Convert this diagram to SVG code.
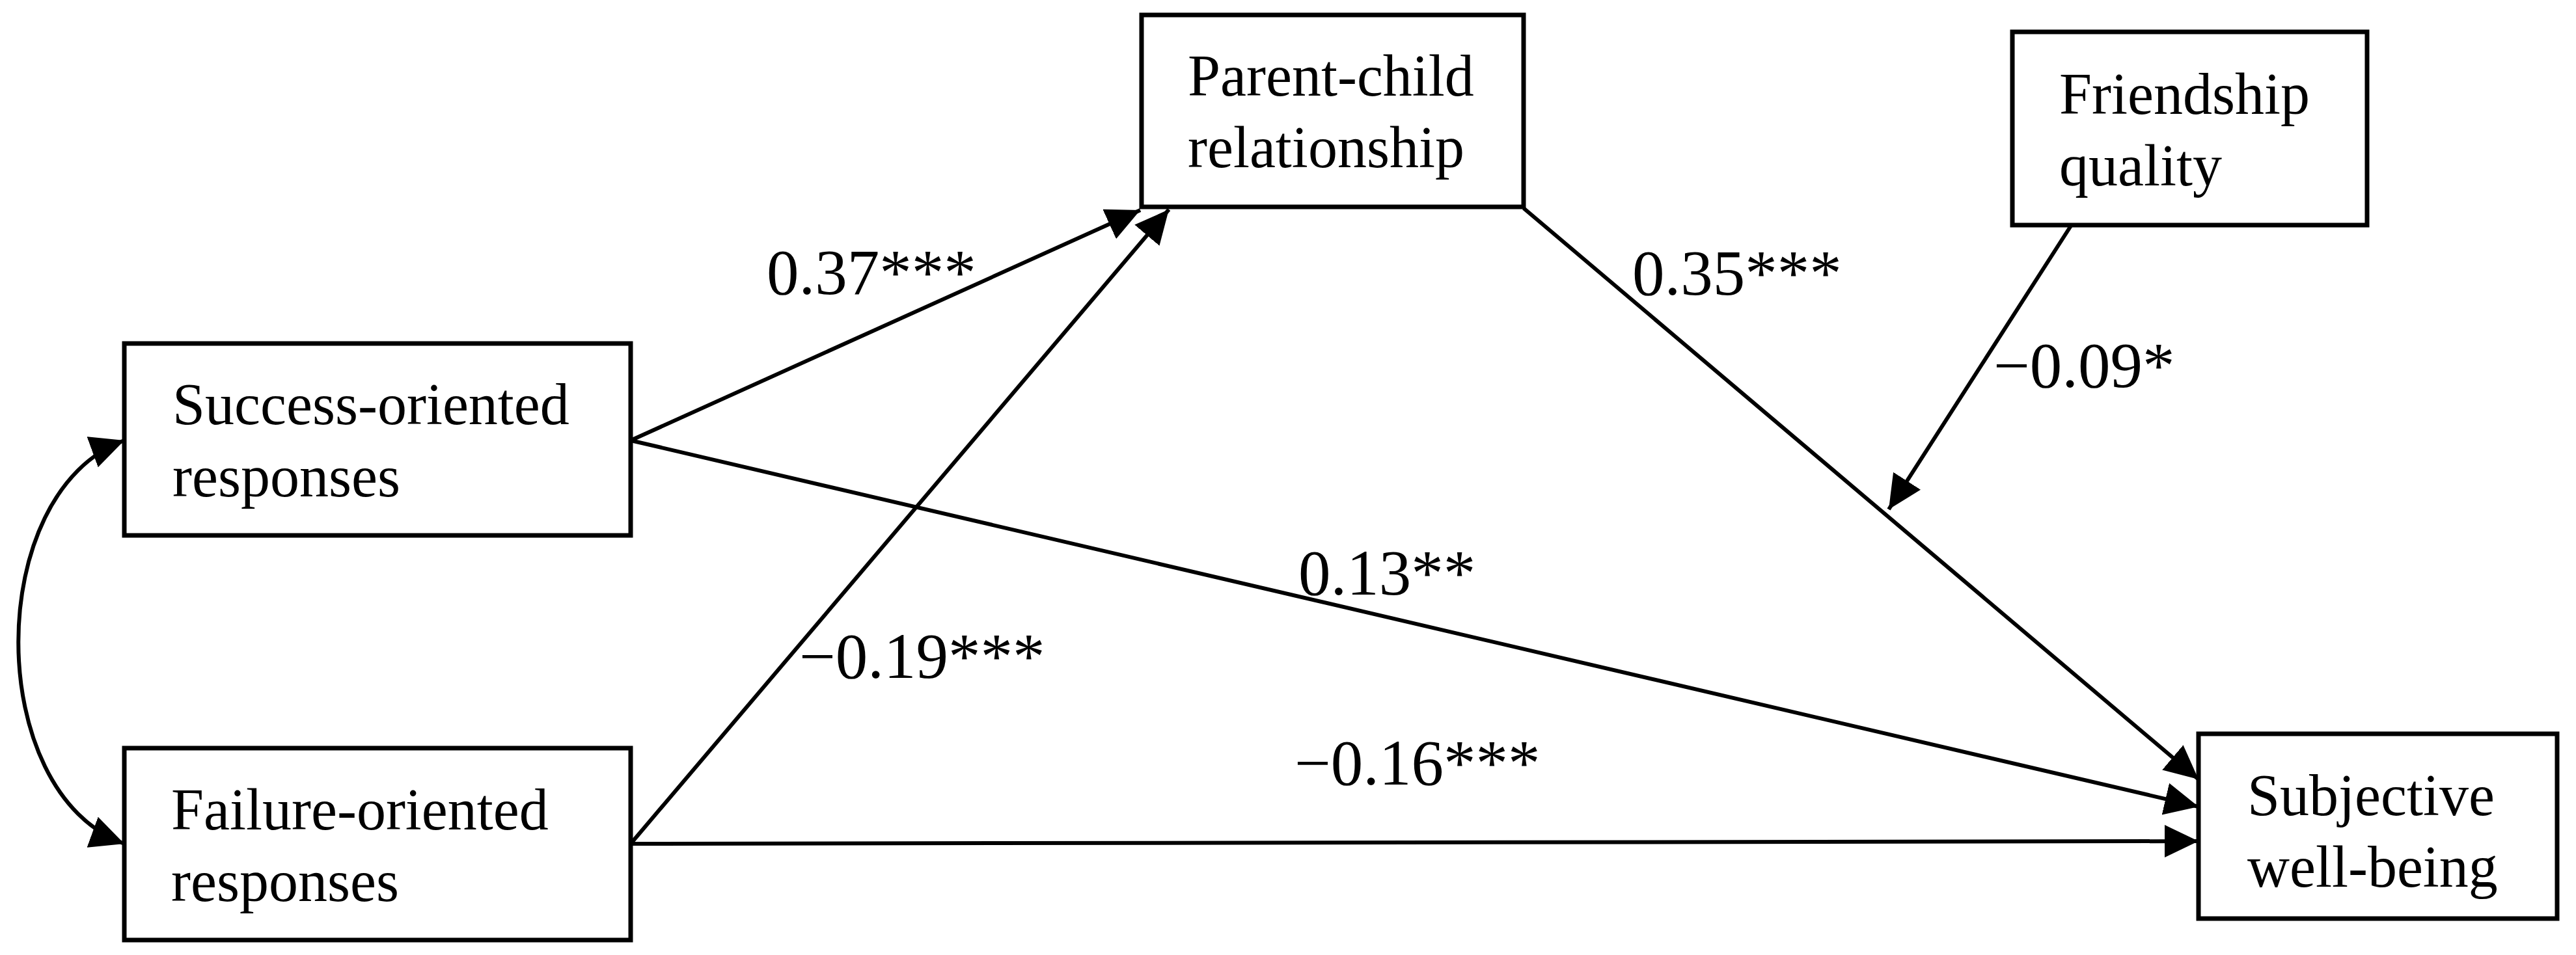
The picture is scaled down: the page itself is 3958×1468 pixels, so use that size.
<svg xmlns="http://www.w3.org/2000/svg" width="3958" height="1468" viewBox="0 0 3958 1468">
<style>
.box{fill:#fff;stroke:#000;stroke-width:7}
.nt{font-family:"Liberation Serif","Times New Roman",serif;font-size:90px;fill:#000}
.lb{font-family:"Liberation Serif","Times New Roman",serif;font-size:99px;fill:#000}
.ln{fill:none;stroke:#000;stroke-width:6}
</style>
<defs>
<marker id="ah" markerUnits="userSpaceOnUse" markerWidth="60" markerHeight="60" refX="52" refY="25" orient="auto-start-reverse" viewBox="0 0 60 60">
<path d="M0,0 L52,25 L0,50 Z" fill="#000"/>
</marker>
</defs>
<rect width="3958" height="1468" fill="#fff"/>
<g id="connectors">
<path class="ln" d="M191,677 C-26,756 -26,1218 191,1297" marker-start="url(#ah)" marker-end="url(#ah)"/>
<line class="ln" x1="969" y1="677" x2="1752" y2="323" marker-end="url(#ah)"/>
<line class="ln" x1="969" y1="1297" x2="1796" y2="322" marker-end="url(#ah)"/>
<line class="ln" x1="969" y1="677" x2="3378" y2="1240" marker-end="url(#ah)"/>
<line class="ln" x1="969" y1="1297" x2="3378" y2="1293" marker-end="url(#ah)"/>
<line class="ln" x1="2341" y1="320" x2="3378" y2="1198" marker-end="url(#ah)"/>
<line class="ln" x1="3182" y1="347" x2="2902" y2="783" marker-end="url(#ah)"/>
<text class="lb" x="1178" y="452">0.37***</text>
<text class="lb" x="2508" y="453">0.35***</text>
<text class="lb" x="3063" y="595">−0.09*</text>
<text class="lb" x="1995" y="914">0.13**</text>
<text class="lb" x="1228" y="1042">−0.19***</text>
<text class="lb" x="1989" y="1206">−0.16***</text>
</g>
<g id="success">
<rect class="box" x="191" y="528" width="778" height="295"/>
<text class="nt" x="265" y="652">Success-oriented</text>
<text class="nt" x="265" y="763">responses</text>
</g>
<g id="failure">
<rect class="box" x="191" y="1150" width="778" height="295"/>
<text class="nt" x="263" y="1275">Failure-oriented</text>
<text class="nt" x="263" y="1385">responses</text>
</g>
<g id="parentchild">
<rect class="box" x="1754" y="23" width="587" height="295"/>
<text class="nt" x="1825" y="147">Parent-child</text>
<text class="nt" x="1825" y="257">relationship</text>
</g>
<g id="friendship">
<rect class="box" x="3092" y="49" width="545" height="297"/>
<text class="nt" x="3164" y="175">Friendship</text>
<text class="nt" x="3164" y="285">quality</text>
</g>
<g id="wellbeing">
<rect class="box" x="3378" y="1128" width="551" height="284"/>
<text class="nt" x="3453" y="1253">Subjective</text>
<text class="nt" x="3453" y="1363">well-being</text>
</g>
</svg>
